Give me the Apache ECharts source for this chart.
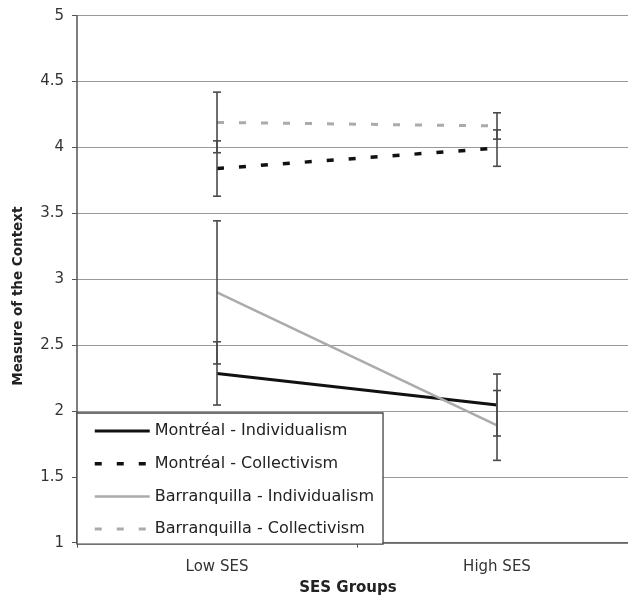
<!DOCTYPE html>
<html><head><meta charset="utf-8">
<script src="https://cdn.jsdelivr.net/npm/echarts@6/dist/echarts.min.js"></script>
<style>html,body{margin:0;padding:0;background:#fff}#c{width:628px;height:598px}</style>
</head><body><div id="c"></div>
<script>
var categories = ['Low SES', 'High SES'];
var seriesNames = ['Montréal - Individualism', 'Montréal - Collectivism', 'Barranquilla - Individualism', 'Barranquilla - Collectivism'];
var montrealIndiv = [2.285, 2.045];
var montrealIndivErr = [0.24, 0.235];
var montrealColl = [3.84, 3.995];
var montrealCollErr = [0.21, 0.138];
var barranquillaIndiv = [2.90, 1.89];
var barranquillaIndivErr = [0.543, 0.265];
var barranquillaColl = [4.19, 4.163];
var barranquillaCollErr = [0.23, 0.10];
var yTicks = [1, 1.5, 2, 2.5, 3, 3.5, 4, 4.5, 5];

var FONT = '"DejaVu Sans", sans-serif';
var BLACK = '#111', GRAY = '#ababab';

function errData(vals, errs) {
  return vals.map(function (v, i) { return [i, v - errs[i], v + errs[i]]; });
}
var allErr = [].concat(
  errData(montrealIndiv, montrealIndivErr),
  errData(montrealColl, montrealCollErr),
  errData(barranquillaIndiv, barranquillaIndivErr),
  errData(barranquillaColl, barranquillaCollErr)
);

var legendWidths = [3, 3.5, 2.5, 3];

var chart = echarts.init(document.getElementById('c'), null, {renderer: 'canvas'});
chart.setOption({
  animation: false,
  backgroundColor: '#fff',
  grid: {left: 77, top: 15.7, width: 560, height: 527, containLabel: false, outerBoundsMode: 'none'},
  xAxis: {
    type: 'category', data: categories, boundaryGap: true,
    name: 'SES Groups', nameLocation: 'middle', nameGap: 38,
    nameTextStyle: {fontFamily: FONT, fontSize: 15, fontWeight: 'bold', color: '#222', padding: [0, 18, 0, 0]},
    axisLine: {lineStyle: {color: '#555', width: 1.5}},
    axisTick: {show: true, length: 5, lineStyle: {color: '#555'}},
    axisLabel: {fontFamily: FONT, fontSize: 15, color: '#333', margin: 17},
    splitLine: {show: false}
  },
  yAxis: {
    type: 'value', min: yTicks[0], max: yTicks[yTicks.length - 1], interval: 0.5,
    name: 'Measure of the Context', nameLocation: 'middle', nameGap: 52, nameRotate: 90,
    nameTextStyle: {fontFamily: FONT, fontSize: 13.5, fontWeight: 'bold', color: '#222', padding: [0, 34, 0, 0]},
    axisLine: {show: true, lineStyle: {color: '#555', width: 1.5}},
    axisTick: {show: true, length: 5, lineStyle: {color: '#555'}},
    axisLabel: {fontFamily: FONT, fontSize: 15, color: '#333', margin: 13,
      formatter: function (v) { return String(v); }},
    splitLine: {show: true, lineStyle: {color: '#999', width: 1.2}}
  },
  legend: {
    data: seriesNames.map(function (n, i) { return {name: n, lineStyle: {width: legendWidths[i]}}; }),
    orient: 'vertical', left: 77, top: 413,
    padding: [10, 9, 7, 16], itemWidth: 55, itemHeight: 16, itemGap: 16.7,
    backgroundColor: '#fff', borderColor: '#444', borderWidth: 1.3, borderRadius: 0,
    itemStyle: {opacity: 0},
    lineStyle: {width: 3},
    textStyle: {fontFamily: FONT, fontSize: 16, color: '#222', lineHeight: 16},
    z: 10
  },
  series: [
    {name: seriesNames[0], type: 'line', data: montrealIndiv, symbol: 'none',
      lineStyle: {color: BLACK, width: 3}, itemStyle: {color: BLACK}, z: 2},
    {name: seriesNames[1], type: 'line', data: montrealColl, symbol: 'none',
      lineStyle: {color: BLACK, width: 3.5, type: [7, 15]}, itemStyle: {color: BLACK}, z: 2},
    {name: seriesNames[2], type: 'line', data: barranquillaIndiv, symbol: 'none',
      lineStyle: {color: GRAY, width: 2.5}, itemStyle: {color: GRAY}, z: 2},
    {name: seriesNames[3], type: 'line', data: barranquillaColl, symbol: 'none',
      lineStyle: {color: GRAY, width: 3, type: [7, 15]}, itemStyle: {color: GRAY}, z: 2},
    {name: 'errors', type: 'custom', data: allErr, z: 3,
      encode: {x: 0, y: [1, 2]},
      renderItem: function (params, api) {
        var lo = api.coord([api.value(0), api.value(1)]);
        var hi = api.coord([api.value(0), api.value(2)]);
        var w = 4;
        var st = {stroke: '#4a4a4a', lineWidth: 1.6};
        return {type: 'group', children: [
          {type: 'line', shape: {x1: lo[0], y1: lo[1], x2: hi[0], y2: hi[1]}, style: st},
          {type: 'line', shape: {x1: lo[0] - w, y1: lo[1], x2: lo[0] + w, y2: lo[1]}, style: st},
          {type: 'line', shape: {x1: hi[0] - w, y1: hi[1], x2: hi[0] + w, y2: hi[1]}, style: st}
        ]};
      }
    }
  ]
});
</script></body></html>
